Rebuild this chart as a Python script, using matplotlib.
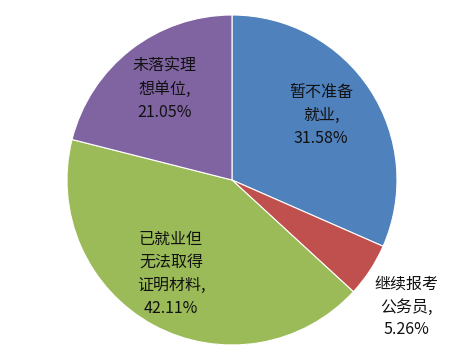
import matplotlib
matplotlib.use('Agg')
import matplotlib.pyplot as plt

plt.rcParams['font.family'] = ['Noto Sans CJK SC', 'DejaVu Sans']

labels = ['暂不准备\n就业,', '继续报考\n公务员,', '已就业但\n无法取得\n证明材料,', '未落实理\n想单位,']
counts = [6, 1, 8, 4]
pcts = ['31.58%', '5.26%', '42.11%', '21.05%']
colors = ['#4F81BD', '#C0504D', '#9BBB59', '#8064A2']
label_xy = [(0.54, 0.39), (1.06, -0.77), (-0.37, -0.57), (-0.41, 0.55)]

fig = plt.figure(figsize=(4.63, 3.56), dpi=100)
ax = fig.add_axes([0.1447, 0.0309, 0.7127, 0.927])
ax.pie(counts, colors=colors, startangle=90, counterclock=False,
       wedgeprops=dict(edgecolor='white', linewidth=0.8))
for lab, p, (x, y) in zip(labels, pcts, label_xy):
    ax.text(x, y, lab + '\n' + p, ha='center', va='center', fontsize=11.5,
            linespacing=1.45, color='#111111')
ax.set_xlim(-1, 1)
ax.set_ylim(-1, 1)
ax.set_aspect('equal')
ax.axis('off')

fig.savefig('out.png', dpi=100)
